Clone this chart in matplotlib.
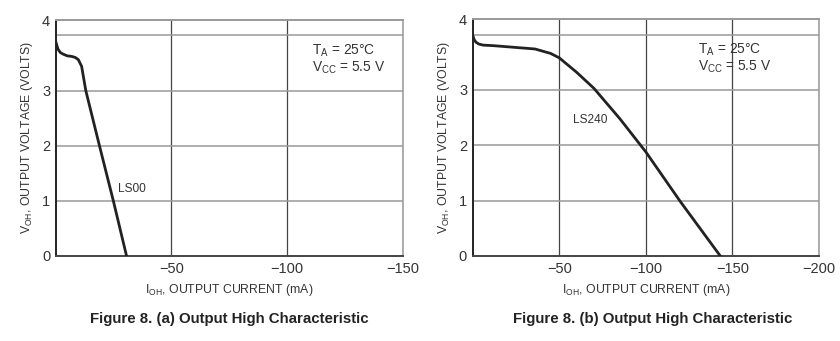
import numpy as np
import matplotlib
matplotlib.use("Agg")
import matplotlib.pyplot as plt

plt.rcParams['font.family'] = ['Liberation Sans', 'DejaVu Sans']

# curve data (mA, volts)
ls00_i = [0, 1, 2, 3.3, 5, 6.9, 8.5, 9.8, 11.2, 13, 18.9, 24.9, 30.6]
ls00_v = [3.89, 3.75, 3.69, 3.66, 3.63, 3.62, 3.60, 3.56, 3.44, 3.0, 2.0, 1.0, 0.0]

ls240_i = [0, 1, 2, 3.5, 6, 12, 20, 36, 45, 50, 60, 70, 85, 100, 120, 143]
ls240_v = [3.99, 3.9, 3.86, 3.83, 3.81, 3.80, 3.78, 3.74, 3.66, 3.58, 3.32, 3.03, 2.48, 1.88, 0.98, 0.0]

xticks_a = [-50, -100, -150]
xticks_b = [-50, -100, -150, -200]
yticks = [0, 1, 2, 3]
ytop = 4.28

txt = '#333333'

fig = plt.figure(figsize=(8.4, 3.41), dpi=100)
ax1 = fig.add_axes([0.0663, 0.2493, 0.4135, 0.692])
ax2 = fig.add_axes([0.5627, 0.2493, 0.4123, 0.6947])


def setup(ax, xmin, xticks):
    ax.set_xlim(0, xmin)
    ax.set_ylim(0, ytop)
    for x in xticks:
        ax.axvline(x, color='#444444', lw=0.9, zorder=1)
    for y in [1, 2, 3, 4]:
        ax.axhline(y, color='#999999', lw=1.1, zorder=1)
    ax.set_xticks(xticks)
    ax.set_xticklabels(['\u2212%d' % -x for x in xticks])
    ax.set_yticks(yticks + [ytop])
    ax.set_yticklabels(['0', '1', '2', '3', '4'])
    ax.tick_params(length=0, labelsize=10.5, labelcolor=txt, pad=4)
    ax.spines['left'].set_color('#222222')
    ax.spines['left'].set_linewidth(1.4)
    ax.spines['bottom'].set_color('#444444')
    ax.spines['bottom'].set_linewidth(1.4)
    ax.spines['top'].set_color('#999999')
    ax.spines['top'].set_linewidth(1.4)
    ax.spines['right'].set_color('#999999')
    ax.spines['right'].set_linewidth(1.1)
    ax.set_ylabel(r'V$_{\mathregular{OH}}$, OUTPUT VOLTAGE (VOLTS)', fontsize=8.8,
                  color=txt, labelpad=5)
    ax.set_xlabel(r'I$_{\mathregular{OH}}$, OUTPUT CURRENT (mA)', fontsize=8.8,
                  color=txt, labelpad=5)


setup(ax1, -150, xticks_a)
setup(ax2, -200, xticks_b)

ax1.plot(-np.array(ls00_i), ls00_v, color='#222222', lw=2.0, zorder=3)
ax2.plot(-np.array(ls240_i), ls240_v, color='#222222', lw=2.0, zorder=3)

ax1.text(-33, 1.22, 'LS00', fontsize=8.6, color=txt, ha='center', va='center')
ax2.text(-68, 2.46, 'LS240', fontsize=8.6, color=txt, ha='center', va='center')

for ax, x0 in [(ax1, -110.7), (ax2, -130)]:
    ax.text(x0, 3.72, r'T$_{\mathregular{A}}$ = 25°C', fontsize=9.9, color=txt,
            ha='left', va='center')
    ax.text(x0, 3.42, r'V$_{\mathregular{CC}}$ = 5.5 V', fontsize=9.9, color=txt,
            ha='left', va='center')

fig.text(0.2726, 0.064, 'Figure 8. (a) Output High Characteristic', fontsize=10.8,
         fontweight='bold', color='#222222', ha='center', va='center')
fig.text(0.7774, 0.064, 'Figure 8. (b) Output High Characteristic', fontsize=10.8,
         fontweight='bold', color='#222222', ha='center', va='center')

fig.savefig('out.png', dpi=100)
